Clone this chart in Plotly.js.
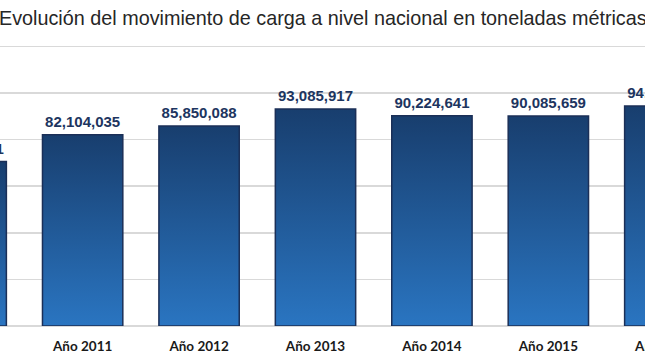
<!DOCTYPE html>
<html>
<head>
<meta charset="utf-8">
<script src="https://cdn.plot.ly/plotly-3.0.1.min.js"></script>
<style>
  html, body { margin: 0; padding: 0; width: 645px; height: 363px; overflow: hidden; background: #fff; }
  #wrap { position: absolute; left: -92px; top: 0; }
</style>
</head>
<body>
<div id="wrap"><div id="chart" style="width:815px;height:363px;"></div></div>
<script>
// Data
const categories = ["Año 2010", "Año 2011", "Año 2012", "Año 2013", "Año 2014", "Año 2015", "Año 2016"];
const cargoTonnes = [70535121, 82104035, 85850088, 93085917, 90224641, 90085659, 94420183];
const titleText = "Evolución del movimiento de carga a nivel nacional en toneladas métricas";

const trace = {
  type: "bar",
  x: categories,
  y: cargoTonnes,
  marker: { color: "#22589a", line: { color: "#1b2f57", width: 1.5 } },
  texttemplate: "%{y:,.0f}",
  textposition: "outside",
  cliponaxis: false,
  textfont: { family: "Liberation Sans, Arial, sans-serif", size: 15, weight: "bold", color: "#1d3560" },
  hoverinfo: "none"
};

const layout = {
  width: 815, height: 363,
  margin: { l: 0, r: 0, t: 44.3, b: 37 },
  paper_bgcolor: "#ffffff", plot_bgcolor: "#ffffff",
  showlegend: false,
  bargap: 0.31,
  title: {
    text: titleText,
    xref: "container", yref: "container",
    x: 91 / 815, xanchor: "left",
    y: 1 - 18.5 / 363, yanchor: "middle",
    font: { family: "Liberation Sans, Arial, sans-serif", size: 19.8, color: "#262626" }
  },
  xaxis: {
    type: "category",
    range: [-0.5, 6.5],
    showgrid: false, showline: false, ticks: "",
    ticklabelstandoff: 10,
    tickfont: { family: "Lato, Calibri, sans-serif", size: 13.5, weight: "bold", color: "#1a1a1a" }
  },
  yaxis: {
    range: [0, 121000000],
    tickvals: [0, 20000000, 40000000, 60000000, 80000000, 100000000, 120000000],
    showticklabels: false,
    gridcolor: "#d9d9d9", gridwidth: 1.5,
    zeroline: true, zerolinecolor: "#d9d9d9", zerolinewidth: 2,
    showline: false, ticks: ""
  }
};

Plotly.newPlot("chart", [trace], layout, { staticPlot: true, displayModeBar: false }).then(function (gd) {
  const svg = gd.querySelector("svg.main-svg");
  const ns = "http://www.w3.org/2000/svg";
  let defs = svg.querySelector("defs");
  if (!defs) { defs = document.createElementNS(ns, "defs"); svg.insertBefore(defs, svg.firstChild); }
  const grad = document.createElementNS(ns, "linearGradient");
  grad.setAttribute("id", "barGrad");
  grad.setAttribute("x1", "0"); grad.setAttribute("y1", "0");
  grad.setAttribute("x2", "0"); grad.setAttribute("y2", "1");
  [["0%", "#183e6e"], ["100%", "#2a75c1"]].forEach(function (s) {
    const st = document.createElementNS(ns, "stop");
    st.setAttribute("offset", s[0]);
    st.setAttribute("stop-color", s[1]);
    grad.appendChild(st);
  });
  defs.appendChild(grad);
  gd.querySelectorAll(".barlayer .point path").forEach(function (p) {
    p.style.fill = "url(#barGrad)";
  });
  // nudge outside value labels up slightly to match the reference spacing
  gd.querySelectorAll(".barlayer .point text").forEach(function (t) {
    const tr = t.getAttribute("transform") || "";
    t.setAttribute("transform", "translate(0,-2) " + tr);
  });
});
</script>
</body>
</html>
